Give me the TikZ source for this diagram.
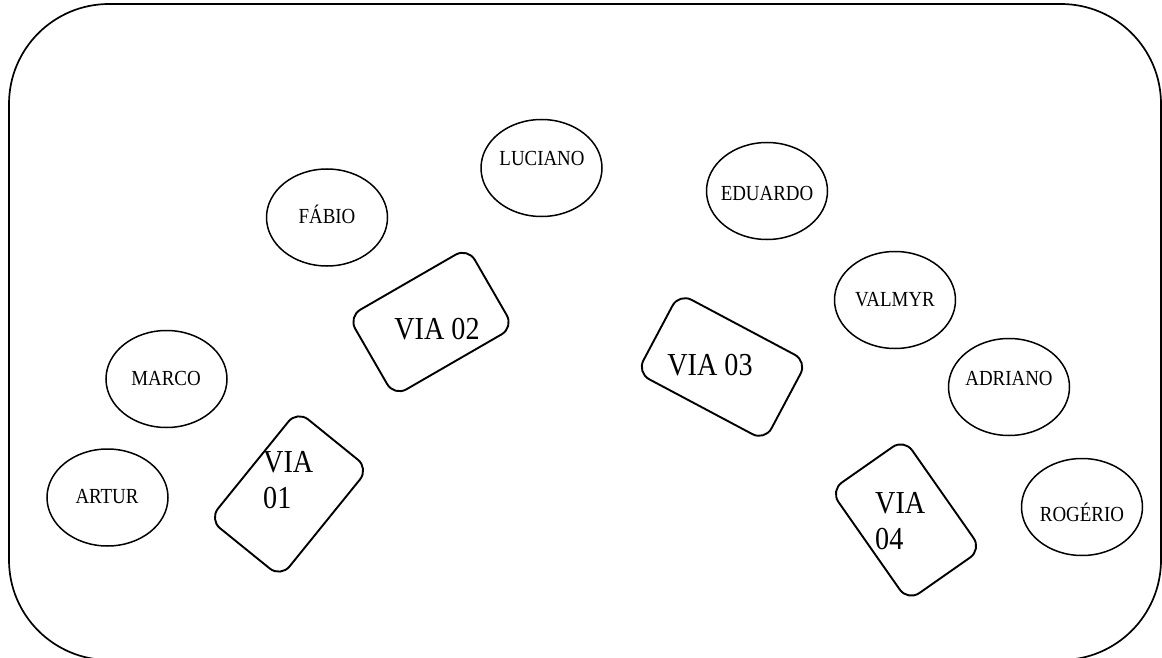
\documentclass[tikz,border=0pt]{standalone}
\usepackage{fontspec}
\setmainfont{Liberation Serif}[FakeStretch=0.88]
\usetikzlibrary{shapes.geometric}

\tikzset{
  pessoa/.style={draw, ellipse, line width=1.5pt, minimum width=121pt, minimum height=97pt, inner sep=0pt},
  nome/.style={font=\fontsize{21.5}{24}\selectfont},
  via/.style={draw, rectangle, line width=1.9pt, rounded corners=14pt, inner sep=0pt},
  viatxt/.style={font=\fontsize{32}{36}\selectfont, inner sep=0pt, align=left}
}

\begin{document}
\begin{tikzpicture}[x=1pt, y=-1pt]
      \useasboundingbox (0,0) rectangle (1162,658);
      \clip (0,0) rectangle (1162,658);
      \draw[line width=1.7pt, rounded corners=100pt] (9,4) rectangle (1161,660);

      \node[pessoa] (artur) at (107.5,497.5) {};
      \node[pessoa] (marco) at (166.5,379) {};
      \node[pessoa] (fabio) at (327,217.5) {};
      \node[pessoa] (luciano) at (541.5,168) {};
      \node[pessoa] (eduardo) at (767,191) {};
      \node[pessoa] (valmyr) at (895,300) {};
      \node[pessoa] (adriano) at (1009,387) {};
      \node[pessoa] (rogerio) at (1082,507) {};

      \node[nome] (artur-n) at (107,497) {ARTUR};
      \node[nome] (marco-n) at (166,378) {MARCO};
      \node[nome] (fabio-n) at (327,214) {FÁBIO};
      \node[nome] (luciano-n) at (542,158) {LUCIANO};
      \node[nome] (eduardo-n) at (767,193) {EDUARDO};
      \node[nome] (valmyr-n) at (895,300) {VALMYR};
      \node[nome] (adriano-n) at (1009,378) {ADRIANO};
      \node[nome] (rogerio-n) at (1082,512) {ROGÉRIO};

      \node[via, minimum width=140pt, minimum height=92pt, rotate=51] (via1) at (289,494) {};
      \node[via, minimum width=138pt, minimum height=92pt, rotate=30] (via2) at (431,322) {};
      \node[via, minimum width=145pt, minimum height=90pt, rotate=-28] (via3) at (722,367) {};
      \node[via, minimum width=135pt, minimum height=90pt, rotate=-55] (via4) at (906,520) {};

      \node[viatxt, anchor=west] (via1-t) at (263,480) {VIA\\01};
      \node[viatxt] (via2-t) at (437,329) {VIA 02};
      \node[viatxt] (via3-t) at (710,365) {VIA 03};
      \node[viatxt, anchor=west] (via4-t) at (875,521) {VIA\\04};
    \end{tikzpicture}
\end{document}
